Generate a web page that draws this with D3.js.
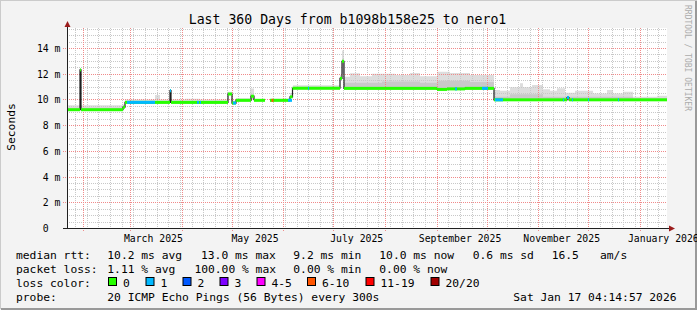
<!DOCTYPE html>
<html>
<head>
<meta charset="utf-8">
<script src="https://cdn.jsdelivr.net/npm/d3@7"></script>
<style>
  body { margin: 0; background: #f3f3f3; }
  svg text { font-family: "DejaVu Sans Mono", monospace; white-space: pre; }
</style>
</head>
<body>
<div id="chart"></div>
<script>
// time window: 360 days ending Sat Jan 17 04:14:57 2026
var tEnd = Date.UTC(2026, 0, 17, 4, 14, 57);
var tStart = tEnd - 360 * 864e5;

// median rtt in ms, step values [day since start, value]
var medianSteps = [
  [0, 9.2], [7.8, 12.3], [8.4, 9.2], [33.6, 9.4], [34.8, 9.77], [61.8, 10.68], [62.4, 9.77],
  [96.6, 10.42], [99.0, 9.72], [101.4, 9.93], [110.4, 10.25], [112.2, 9.93], [118.8, null],
  [121.8, 9.93], [133.8, 10.2], [135.3, 10.87], [163.8, 11.64], [165.0, 12.97], [166.2, 10.86],
  [222.0, 10.78], [228.0, 10.82], [238.8, 10.86], [256.2, 9.97], [300.0, 10.15], [301.2, 9.97],
  [360, 9.97]
];

// stretches where loss was not 0: [from day, to day, loss class]
var lossBits = [
  [36.0, 52.8, 1], [61.8, 62.4, 1], [78.0, 79.2, 1], [79.8, 80.4, 1], [99.6, 101.4, 1],
  [122.7, 123.9, 5], [132.6, 135.0, 1], [144.6, 145.2, 1], [232.8, 234.0, 1], [249.0, 252.6, 1],
  [256.8, 261.6, 1], [297.6, 298.2, 1], [300.0, 301.2, 1], [303.0, 303.6, 1], [312.6, 313.2, 1],
  [330.6, 331.2, 1]
];

// smoke upper edge (light grey), [day, ms]
var smokeTop = [
  [0, 9.55], [33.6, 9.6], [34.8, 10.0], [52.8, 10.35], [55.8, 10.0], [61.8, 10.75], [62.4, 10.0],
  [70.8, 10.05], [79.8, 10.0], [96.6, 10.6], [99.0, 9.9], [101.4, 10.1], [109.8, 10.85],
  [112.2, 10.05], [118.8, null], [121.8, 10.05], [133.8, 10.5], [135.6, 11.1], [163.8, 11.9],
  [165.0, 13.8], [166.2, 11.77], [169.8, 12.03], [175.8, 11.8], [183.0, 12.0], [196.8, 11.9],
  [205.8, 12.05], [211.8, 11.8], [222.0, 12.15], [229.8, 12.05], [241.8, 11.9], [256.2, 10.73],
  [259.8, 10.68], [265.8, 10.94], [271.8, 11.25], [273.6, 10.94], [279.0, 11.12], [285.6, 10.79],
  [289.8, 10.68], [294.0, 10.86], [298.8, 10.52], [304.8, 10.68], [315.6, 10.47], [324.0, 10.73],
  [327.6, 10.47], [333.6, 10.6], [339.6, 10.21], [354.0, 10.29], [360, 10.29]
];

// smoke inner band (darker grey), [day, ms]
var smokeMid = [
  [0, 9.35], [33.6, 9.45], [34.8, 9.85], [96.6, 10.45], [99.0, 9.8], [101.4, 10.0], [118.8, null],
  [121.8, 10.0], [133.8, 10.25], [135.6, 10.95], [163.8, 11.7], [165.0, 12.0], [166.2, 11.3],
  [189.0, 11.4], [211.8, 11.3], [222.0, 11.45], [241.8, 11.35], [256.2, 10.2], [265.8, 10.4],
  [285.6, 10.2], [339.6, 10.1], [360, 10.1]
];

var lossLabels = ["0", "1", "2", "3", "4-5", "6-10", "11-19", "20/20"];
var lossColors = ["#26ff00", "#00b8ff", "#0059ff", "#7e00ff", "#ff00ff", "#ff5500", "#ff0000", "#a10000"];
var lossBoxX = [108.5, 146, 183, 220, 257, 307.5, 366, 431];

var yTicks = [0, 2, 4, 6, 8, 10, 12, 14];

var rttLabels = ["median rtt:", "10.2 ms avg", "13.0 ms max", "9.2 ms min", "10.0 ms now", "0.6 ms sd", "16.5", "am/s"];
var rttX = [16, 107.3, 201, 293.3, 379.3, 472.7, 551.7, 600];
var lossStatLabels = ["packet loss:", "1.11 % avg", "100.00 % max", "0.00 % min", "0.00 % now"];
var lossStatX = [16, 107.3, 194.4, 293.3, 379.3];

var W = 697, H = 310;
var svg = d3.select("#chart").append("svg").attr("width", W).attr("height", H);

var pad = {l: 67, r: 30, t: 28, b: 82};
var x = d3.scaleLinear().domain([0, 360]).range([pad.l, W - pad.r]);
var y = d3.scaleLinear().domain([0, 200 / 12.857]).range([H - pad.b, pad.t]);
var dayOf = function(t) { return (t - tStart) / 864e5; };

// background with 3d frame
svg.append("rect").attr("width", W).attr("height", H).attr("fill", "#f3f3f3");
svg.append("path").attr("d", "M0,309V0H697").attr("fill", "none").attr("stroke", "#cbcbcb").attr("stroke-width", 2);
svg.append("path").attr("d", "M1,309H696V1").attr("fill", "none").attr("stroke", "#999").attr("stroke-width", 2);
svg.append("rect").attr("x", x(0)).attr("y", y.range()[1]).attr("width", x(360) - x(0))
   .attr("height", y.range()[0] - y.range()[1]).attr("fill", "#fff");

// lookups on step series
function stepAt(arr, d) {
  var v = null;
  for (var i = 0; i < arr.length; i++) { if (arr[i][0] <= d) v = arr[i][1]; else break; }
  return v;
}

// smoke
var days = Array.from(new Set(medianSteps.concat(smokeTop, smokeMid).map(function(p) { return p[0]; })))
  .sort(function(a, b) { return a - b; });
function smokeArea(arr) {
  return d3.area().curve(d3.curveStepAfter)
    .defined(function(d) { return stepAt(arr, d) != null && stepAt(medianSteps, d) != null; })
    .x(function(d) { return x(d); })
    .y0(function(d) { return y(stepAt(medianSteps, d) - 0.08); })
    .y1(function(d) { return y(stepAt(arr, d)); });
}
svg.append("path").datum(days).attr("d", smokeArea(smokeTop)).attr("fill", "#dddddd");
svg.append("path").datum(days).attr("d", smokeArea(smokeMid)).attr("fill", "#c9c9c9");

// grid
var grid = svg.append("g").attr("shape-rendering", "crispEdges");
var minorY = d3.range(0.5, 15.6, 0.5).filter(function(v) { return v % 2 !== 0; });
grid.selectAll(".hmin").data(minorY).enter().append("line")
  .attr("x1", x(0)).attr("x2", x(360)).attr("y1", function(d) { return Math.round(y(d)) + 0.5; })
  .attr("y2", function(d) { return Math.round(y(d)) + 0.5; })
  .attr("stroke", "#c8c8c8").attr("stroke-dasharray", "1,1");
var weeks = d3.utcMonday.range(new Date(tStart), new Date(tEnd)).map(dayOf);
grid.selectAll(".vmin").data(weeks).enter().append("line")
  .attr("x1", function(d) { return Math.round(x(d)) + 0.5; }).attr("x2", function(d) { return Math.round(x(d)) + 0.5; })
  .attr("y1", y.range()[1]).attr("y2", y(0) + 2)
  .attr("stroke", "#c8c8c8").attr("stroke-dasharray", "1,1");
grid.selectAll(".hmaj").data(yTicks.slice(1)).enter().append("line")
  .attr("x1", x(0) - 4).attr("x2", x(360)).attr("y1", function(d) { return Math.round(y(d)) + 0.5; })
  .attr("y2", function(d) { return Math.round(y(d)) + 0.5; })
  .attr("stroke", "#f08a8a").attr("stroke-dasharray", "1,1");
var months = d3.utcMonth.range(new Date(tStart), new Date(tEnd)).map(dayOf);
grid.selectAll(".vmaj").data(months).enter().append("line")
  .attr("x1", function(d) { return Math.round(x(d)) + 0.5; }).attr("x2", function(d) { return Math.round(x(d)) + 0.5; })
  .attr("y1", y.range()[1]).attr("y2", y(0) + 3)
  .attr("stroke", "#f08a8a").attr("stroke-dasharray", "1,1");

// median: dark step line, then loss coloured bars
var medLine = d3.line().curve(d3.curveStepAfter)
  .defined(function(d) { return d[1] != null; })
  .x(function(d) { return x(d[0]); }).y(function(d) { return y(d[1]); });
svg.append("path").datum(medianSteps).attr("d", medLine).attr("fill", "none")
  .attr("stroke", "#202020").attr("stroke-width", 1.2);
var segs = medianSteps.slice(0, -1).map(function(p, i) { return [p[0], medianSteps[i + 1][0], p[1]]; })
  .filter(function(s) { return s[2] != null; });
svg.selectAll(".seg").data(segs).enter().append("rect")
  .attr("x", function(d) { return x(d[0]); }).attr("width", function(d) { return x(d[1]) - x(d[0]); })
  .attr("y", function(d) { return y(d[2]) - 1.5; }).attr("height", 3).attr("fill", lossColors[0]);
svg.selectAll(".loss").data(lossBits).enter().append("rect")
  .attr("x", function(d) { return x(d[0]); }).attr("width", function(d) { return x(d[1]) - x(d[0]); })
  .attr("y", function(d) { return y(stepAt(medianSteps, d[0])) - 1.5; }).attr("height", 3)
  .attr("fill", function(d) { return lossColors[d[2]]; });

// axes
var axisCol = "#202020", arrowCol = "#9b1c1c";
svg.append("line").attr("x1", x(0) + 0.5).attr("x2", x(0) + 0.5).attr("y1", y(0)).attr("y2", 25)
  .attr("stroke", axisCol);
svg.append("line").attr("x1", x(0) - 4).attr("x2", x(360) + 3).attr("y1", y(0) + 0.5).attr("y2", y(0) + 0.5)
  .attr("stroke", axisCol);
svg.append("path").attr("d", "M" + (x(0) - 2.5) + ",27L" + (x(0) + 0.5) + ",21L" + (x(0) + 3.5) + ",27Z").attr("fill", arrowCol);
svg.append("path").attr("d", "M" + (x(360) + 2) + "," + (y(0) - 2.5) + "L" + (x(360) + 8) + "," + (y(0) + 0.5) +
  "L" + (x(360) + 2) + "," + (y(0) + 3.5) + "Z").attr("fill", arrowCol);

svg.selectAll(".ylab").data(yTicks).enter().append("text")
  .attr("x", 60.5).attr("y", function(d) { return y(d) + 4; }).attr("text-anchor", "end")
  .attr("font-size", "9.8px")
  .text(function(d) { return d === 0 ? "0  " : d + " m"; });

var labelMonths = d3.utcMonth.every(2).range(new Date(tStart), new Date(tEnd));
svg.selectAll(".xlab").data(labelMonths).enter().append("text")
  .attr("x", function(d) { return x(dayOf(d3.utcDay.offset(d, 14))); }).attr("y", 241.5)
  .attr("text-anchor", "middle").attr("font-size", "9.8px")
  .text(function(d) { return d3.utcFormat("%B %Y")(d); });

// titles
svg.append("text").attr("x", 347.5).attr("y", 24).attr("text-anchor", "middle").attr("font-size", "13.2px")
  .text("Last 360 Days from b1098b158e25 to nero1");
svg.append("text").attr("transform", "translate(15,127) rotate(-90)").attr("text-anchor", "middle")
  .attr("font-size", "11.3px").text("Seconds");
svg.append("text").attr("transform", "translate(684.5,5) rotate(90)").attr("font-size", "8px")
  .attr("fill", "#ababab").text("RRDTOOL / TOBI OETIKER");

// legend
var leg = svg.append("g").attr("font-size", "11.3px");
leg.selectAll(".r1").data(rttLabels).enter().append("text")
  .attr("x", function(d, i) { return rttX[i]; }).attr("y", 258.5).text(function(d) { return d; });
leg.selectAll(".r2").data(lossStatLabels).enter().append("text")
  .attr("x", function(d, i) { return lossStatX[i]; }).attr("y", 272.5).text(function(d) { return d; });
leg.append("text").attr("x", 16).attr("y", 286.5).text("loss color:");
leg.selectAll(".box").data(lossColors).enter().append("rect")
  .attr("x", function(d, i) { return lossBoxX[i]; }).attr("y", 277.5).attr("width", 8).attr("height", 8)
  .attr("fill", function(d) { return d; }).attr("stroke", "#000");
leg.selectAll(".bl").data(lossLabels).enter().append("text")
  .attr("x", function(d, i) { return lossBoxX[i] + 14.5; }).attr("y", 286.5).text(function(d) { return d; });
leg.append("text").attr("x", 16).attr("y", 300.5).text("probe:");
leg.append("text").attr("x", 107.3).attr("y", 300.5).text("20 ICMP Echo Pings (56 Bytes) every 300s");
leg.append("text").attr("x", 513.3).attr("y", 300.5).text("Sat Jan 17 04:14:57 2026");
</script>
</body>
</html>
